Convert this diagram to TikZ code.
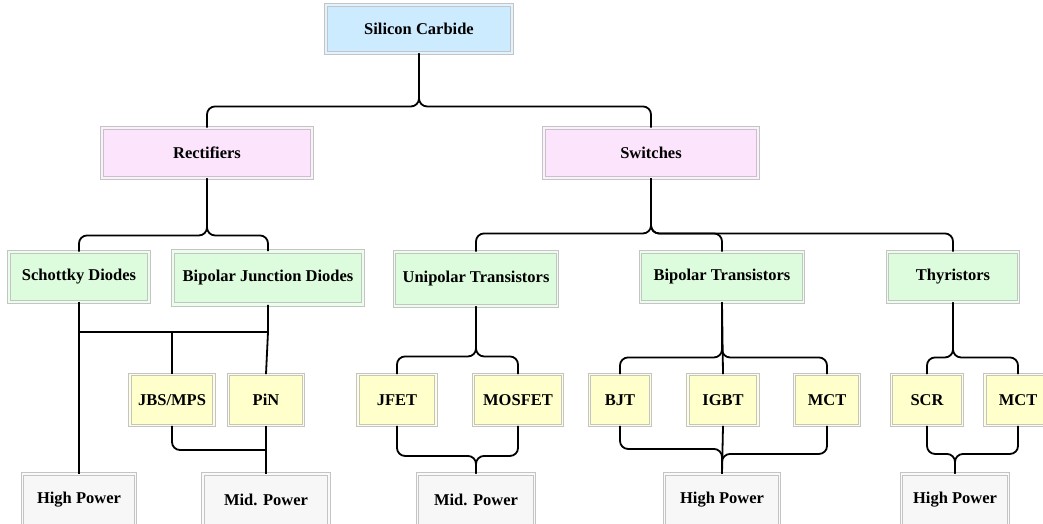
\documentclass[tikz,border=0pt]{standalone}
\usepackage{fontspec}
\setmainfont{Liberation Serif}
\definecolor{cblue}{HTML}{CCEBFF}
\definecolor{cpink}{HTML}{FCE4FC}
\definecolor{cgreen}{HTML}{DDFCDD}
\definecolor{cyellow}{HTML}{FFFFCC}
\definecolor{cgray}{HTML}{F7F7F7}
\definecolor{cborder}{HTML}{C4C4C4}
\tikzset{
  box/.style={rectangle, draw=cborder, double=#1!60!white, double distance=1.6pt,
    line width=0.9pt, fill=#1, inner sep=0pt,
    font=\fontsize{16.5}{18}\selectfont\bfseries},
  conn/.style={draw=black, line width=1.8pt, rounded corners=8pt},
}
\begin{document}
\begin{tikzpicture}[x=1pt,y=-1pt]
\useasboundingbox (0,0) rectangle (1043,523);
\clip (0,0) rectangle (1043,523);
% level 0
\node[box=cblue, minimum width=186pt, minimum height=48pt] (sic) at (419,29) {Silicon Carbide};
% level 1
\node[box=cpink, minimum width=210pt, minimum height=50pt] (rect) at (207,153) {Rectifiers};
\node[box=cpink, minimum width=214pt, minimum height=50pt] (sw) at (651,153) {Switches};
% level 2
\node[box=cgreen, minimum width=140pt, minimum height=50pt] (sd) at (79,277) {Schottky Diodes};
\node[box=cgreen, minimum width=190pt, minimum height=53pt, double distance=2.4pt] (bjd) at (268,278) {Bipolar Junction Diodes};
\node[box=cgreen, minimum width=163pt, minimum height=54pt] (ut) at (476,279) {Unipolar Transistors};
\node[box=cgreen, minimum width=163pt, minimum height=50pt] (bt) at (722,277) {Bipolar Transistors};
\node[box=cgreen, minimum width=131pt, minimum height=50pt] (th) at (953,277) {Thyristors};
% level 3
\node[box=cyellow, minimum width=84pt, minimum height=51pt] (jbs) at (172,400) {JBS/MPS};
\node[box=cyellow, minimum width=75pt, minimum height=51pt] (pin) at (266,400) {PiN};
\node[box=cyellow, minimum width=78pt, minimum height=51pt] (jfet) at (397,400) {JFET};
\node[box=cyellow, minimum width=89pt, minimum height=51pt] (mosfet) at (518,400) {MOSFET};
\node[box=cyellow, minimum width=61pt, minimum height=51pt] (bjt) at (620,400) {BJT};
\node[box=cyellow, minimum width=70pt, minimum height=51pt] (igbt) at (723,400) {IGBT};
\node[box=cyellow, minimum width=65pt, minimum height=51pt] (mcta) at (827,400) {MCT};
\node[box=cyellow, minimum width=71pt, minimum height=51pt] (scr) at (927,400) {SCR};
\node[box=cyellow, minimum width=66pt, minimum height=51pt] (mctb) at (1018,400) {MCT};
% level 4
\node[box=cgray, minimum width=113pt, minimum height=52pt] (hpa) at (79,500) {High Power};
\node[box=cgray, minimum width=126pt, minimum height=52pt] (mpa) at (266,500) {Mid. Power};
\node[box=cgray, minimum width=117pt, minimum height=52pt] (mpb) at (476,500) {Mid. Power};
\node[box=cgray, minimum width=115pt, minimum height=52pt] (hpb) at (722,500) {High Power};
\node[box=cgray, minimum width=107pt, minimum height=52pt] (hpc) at (955,500) {High Power};
% connectors level 0 -> 1
\draw[conn] (sic.south) -- ++(0,53) -| (rect.north);
\draw[conn] (sic.south) -- ++(0,53) -| (sw.north);
% level 1 -> 2
\draw[conn] (rect.south) -- ++(0,57) -| (sd.north);
\draw[conn] (rect.south) -- ++(0,57) -| (bjd.north);
\draw[conn] (sw.south) -- ++(0,55) -| (ut.north);
\draw[conn] (sw.south) -- ++(0,55) -| (bt.north);
\draw[conn] (sw.south) -- ++(0,55) -| (th.north);
% rectifier branch
\coordinate (busL) at (79,332);
\coordinate (busR) at (268,332);
\draw[conn] (sd.south) -- (hpa.north);
\draw[conn, rounded corners=0pt] (busL) -- (busR);
\draw[conn, rounded corners=0pt] (bjd.south) -- (busR) -- (pin.north);
\draw[conn] (busL -| jbs.north) -- (jbs.north);
\draw[conn] (jbs.south) |- (mpa.north |- 0,450);
\draw[conn] (pin.south) -- (mpa.north);
% unipolar branch
\draw[conn] (ut.south) -- ++(0,50) -| (jfet.north);
\draw[conn] (ut.south) -- ++(0,50) -| (mosfet.north);
\draw[conn] (jfet.south) -- ++(0,30) -| (mpb.north);
\draw[conn] (mosfet.south) -- ++(0,30) -| (mpb.north);
% bipolar branch
\draw[conn] (bt.south) -- ++(0,55) -| (bjt.north);
\draw[conn] (bt.south) -- (igbt.north);
\draw[conn] (bt.south) -- ++(0,55) -| (mcta.north);
\draw[conn] (bjt.south) -- ++(0,23) -| (hpb.north);
\draw[conn] (igbt.south) -- (hpb.north);
\draw[conn] (mcta.south) -- ++(0,28) -| (hpb.north);
% thyristor branch
\draw[conn] (th.south) -- ++(0,55) -| (scr.north);
\draw[conn] (th.south) -- ++(0,55) -| (mctb.north);
\draw[conn] (scr.south) -- ++(0,28) -| (hpc.north);
\draw[conn] (mctb.south) -- ++(0,28) -| (hpc.north);
\end{tikzpicture}
\end{document}
